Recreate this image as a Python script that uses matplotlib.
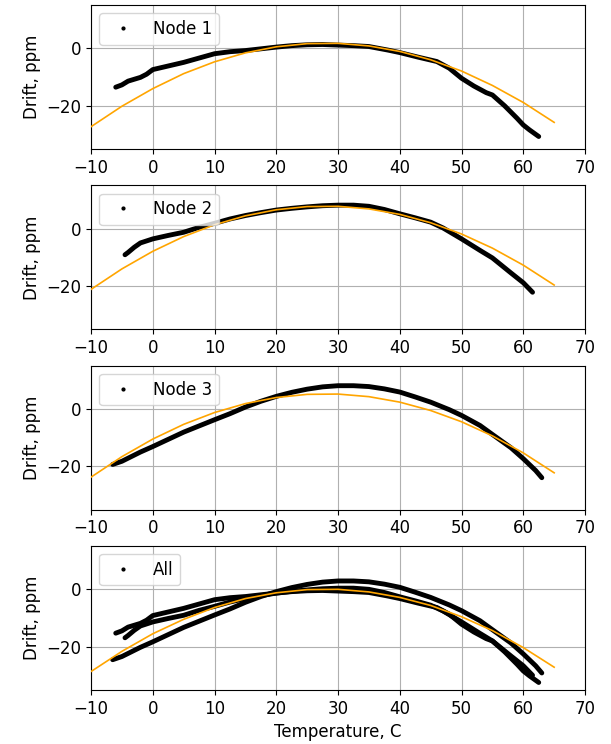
import matplotlib
matplotlib.use("Agg")
import matplotlib.pyplot as plt
from matplotlib.lines import Line2D

plt.rcParams['font.size'] = 12

t_node1 = [-6, -5, -4, -2, -1, 0, 2, 5, 8, 10, 12.5, 15, 17.5, 20, 22.5, 25,
           27.5, 30, 32.5, 35, 38, 40, 43, 46, 48, 50, 52, 54, 55, 57, 59, 60,
           61, 62.5]
d_node1 = [-13.5, -12.7, -11.4, -10.1, -9.0, -7.4, -6.4, -4.9, -3.1, -1.9,
           -1.2, -0.8, -0.2, 0.4, 0.9, 1.2, 1.3, 1.1, 0.9, 0.6, -0.6, -1.5,
           -3.1, -4.6, -6.9, -10.4, -13.1, -15.4, -16.2, -20.0, -24.3, -26.6,
           -28.3, -30.6]

t_node2 = [-4.5, -4, -3, -2, 0, 2.5, 5, 7.5, 10, 12.5, 15, 17.5, 20, 22.5, 25,
           27.5, 30, 32.5, 35, 37.5, 40, 42.5, 45, 47, 50, 53, 55, 58, 60, 61.5]
d_node2 = [-9.1, -8.3, -6.5, -5.0, -3.6, -2.4, -1.3, 0.4, 1.8, 3.3, 4.5, 5.5,
           6.4, 7.0, 7.5, 7.9, 8.1, 8.1, 7.7, 6.6, 5.1, 3.7, 2.2, 0.2, -3.6,
           -7.6, -10.2, -15.4, -18.8, -22.1]

t_node3 = [-6.5, -5, -2, 0, 5, 10, 12.5, 15, 17.5, 20, 22.5, 25, 27.5, 30,
           32.5, 35, 37.5, 40, 42.5, 45, 48, 50, 53, 55, 58, 60, 62, 63]
d_node3 = [-19.3, -18.2, -15.0, -13.1, -8.1, -3.8, -1.7, 0.6, 2.6, 4.3, 5.7,
           6.8, 7.6, 8.0, 8.0, 7.7, 6.9, 5.8, 4.1, 2.3, -0.3, -2.3, -5.8, -8.9,
           -13.5, -17.3, -21.4, -23.9]

# "All" panel: the three nodes after removing each node's offset
d_all1 = [-15.3, -14.5, -13.2, -11.9, -10.8, -9.2, -8.2, -6.7, -4.9, -3.7,
          -3.0, -2.6, -2.0, -1.4, -0.9, -0.6, -0.5, -0.7, -0.9, -1.2, -2.4,
          -3.3, -4.9, -6.4, -8.7, -12.2, -14.9, -17.2, -18.0, -21.8, -26.1,
          -28.4, -30.1, -32.4]
d_all2 = [-16.9, -16.1, -14.3, -12.8, -11.4, -10.2, -9.1, -7.4, -6.0, -4.5,
          -3.3, -2.3, -1.4, -0.8, -0.3, 0.1, 0.3, 0.3, -0.1, -1.2, -2.7, -4.1,
          -5.6, -7.6, -11.4, -15.4, -18.0, -23.2, -26.6, -29.9]
d_all3 = [-24.5, -23.4, -20.2, -18.3, -13.3, -9.0, -6.9, -4.6, -2.6, -0.9, 0.5,
          1.6, 2.4, 2.8, 2.8, 2.5, 1.7, 0.6, -1.1, -2.9, -5.5, -7.5, -11.0,
          -14.1, -18.7, -22.5, -26.6, -29.1]

# quadratic fit curves (orange), read every 5 degrees
t_fit = [-10, -5, 0, 5, 10, 15, 20, 25, 30, 35, 40, 45, 50, 55, 60, 65]
fit_node1 = [-27.2, -20.1, -14.0, -8.8, -4.7, -1.6, 0.5, 1.6, 1.7, 0.8, -1.1,
             -4.0, -7.9, -12.9, -18.8, -25.7]
fit_node2 = [-21.1, -14.0, -7.9, -2.8, 1.3, 4.4, 6.5, 7.6, 7.7, 6.8, 4.9, 2.0,
             -1.9, -6.8, -12.7, -19.6]
fit_node3 = [-23.7, -16.6, -10.5, -5.4, -1.3, 1.8, 3.9, 5.0, 5.1, 4.2, 2.3, -0.6,
             -4.5, -9.4, -15.3, -22.2]
fit_all = [-28.6, -21.6, -15.5, -10.5, -6.4, -3.3, -1.3, -0.2, -0.1, -1.0, -2.9,
           -5.7, -9.6, -14.4, -20.3, -27.1]

panels = [
    ("Node 1", [(t_node1, d_node1)], fit_node1),
    ("Node 2", [(t_node2, d_node2)], fit_node2),
    ("Node 3", [(t_node3, d_node3)], fit_node3),
    ("All", [(t_node1, d_all1), (t_node2, d_all2), (t_node3, d_all3)], fit_all),
]

fig, axes = plt.subplots(4, 1, figsize=(6.11, 7.44), dpi=100)
fig.subplots_adjust(left=0.149, right=0.9575, top=0.9933, bottom=0.0726,
                    hspace=0.25)

for ax, (name, series, fit) in zip(axes, panels):
    for t, d in series:
        ax.plot(t, d, color='black', lw=3.5, solid_capstyle='round',
                solid_joinstyle='round', zorder=2)
    ax.plot(t_fit, fit, color='orange', lw=1.2, zorder=3)
    ax.set_xlim(-10, 70)
    ax.set_ylim(-35, 15)
    ax.set_xticks(range(-10, 71, 10))
    ax.set_yticks([-20, 0])
    ax.grid(True)
    ax.set_axisbelow(True)
    ax.set_ylabel("Drift, ppm")
    handle = Line2D([], [], ls='', marker='.', color='black', markersize=4)
    ax.legend([handle], [name], loc='upper left')

axes[-1].set_xlabel("Temperature, C")

fig.savefig("out.png", dpi=100)
